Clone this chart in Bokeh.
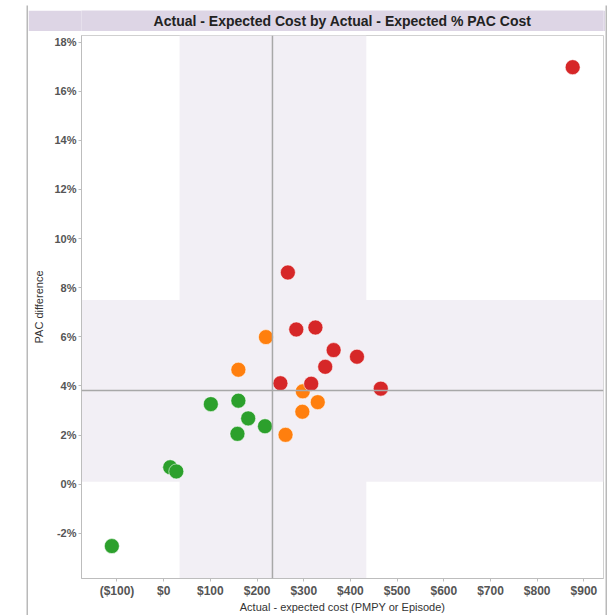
from bokeh.plotting import figure
from bokeh.layouts import column, row
from bokeh.models import (Range1d, BoxAnnotation, Span, Label, ColumnDataSource,
                          FixedTicker, PrintfTickFormatter, CustomJSTickFormatter)
from bokeh.embed import file_html
from bokeh.resources import INLINE

# ---- data ----
title_text = "Actual - Expected Cost by Actual - Expected % PAC Cost"
x_label = "Actual - expected cost (PMPY or Episode)"
y_label = "PAC difference"

red_x = [876, 266, 284, 325, 364, 414, 346, 250, 316, 465]
red_y = [16.98, 8.62, 6.30, 6.38, 5.46, 5.19, 4.78, 4.11, 4.09, 3.89]

orange_x = [219, 160, 298, 330, 297, 261]
orange_y = [5.99, 4.66, 3.78, 3.34, 2.95, 2.01]

green_x = [101, 160, 181, 217, 158, 14, 27, -111]
green_y = [3.26, 3.40, 2.68, 2.36, 2.05, 0.69, 0.52, -2.52]

ref_x = 233          # vertical reference line ($)
ref_y = 3.82         # horizontal reference line (%)
band_x = [34, 434]   # shaded band in x ($)
band_y = [0.1, 7.5]  # shaded band in y (%)

x_ticks = [-100, 0, 100, 200, 300, 400, 500, 600, 700, 800, 900]
y_ticks = [-2, 0, 2, 4, 6, 8, 10, 12, 14, 16, 18]
x_limits = [-176, 942]
y_limits = [-3.84, 18.27]

colors = {"red": "#d62728", "orange": "#ff7f0e", "green": "#2ca02c"}
band_color = "#f2eff5"
frame_gray = "#b9b9b9"
font = "Liberation Sans"

W = 577


def blank(width, height, color):
    f = figure(width=width, height=height, output_backend="svg", toolbar_location=None,
               x_range=Range1d(0, 1), y_range=Range1d(0, 1), min_border=0)
    f.axis.visible = False
    f.grid.visible = False
    f.outline_line_color = None
    f.background_fill_color = color
    f.border_fill_color = color
    return f


# ---- title bar ----
t = blank(W, 21, "#ddd5e5")
t.add_layout(Label(x=0.5, y=0.5, text=title_text, text_align="center",
                   text_baseline="middle", text_font=font, text_font_size="14px",
                   text_font_style="bold", text_color="#222222"))

# ---- main plot ----
p = figure(width=W, height=584, output_backend="svg", toolbar_location=None,
           x_range=Range1d(*x_limits), y_range=Range1d(*y_limits),
           min_border_left=53, min_border_right=2, min_border_top=4, min_border_bottom=37)
p.grid.visible = False
p.background_fill_color = "white"
p.border_fill_color = "white"
p.outline_line_color = "#d0d0d0"

p.add_layout(BoxAnnotation(left=band_x[0], right=band_x[1], fill_color=band_color,
                           fill_alpha=1, line_color=None, level="underlay"))
p.add_layout(BoxAnnotation(bottom=band_y[0], top=band_y[1], fill_color=band_color,
                           fill_alpha=1, line_color=None, level="underlay"))
p.add_layout(Span(location=ref_x, dimension="height", line_color="#a8a8a8", line_width=1.5))
p.add_layout(Span(location=ref_y, dimension="width", line_color="#a8a8a8", line_width=1.5))

for name, xs, ys in [("green", green_x, green_y), ("orange", orange_x, orange_y),
                     ("red", red_x, red_y)]:
    src = ColumnDataSource(dict(x=xs, y=ys))
    p.scatter("x", "y", source=src, size=15, fill_color=colors[name],
              line_color="white", line_width=0.8, line_alpha=0.7)

p.xaxis.ticker = FixedTicker(ticks=x_ticks)
p.yaxis.ticker = FixedTicker(ticks=y_ticks)
p.xaxis.formatter = CustomJSTickFormatter(
    code='return tick < 0 ? "($" + Math.abs(tick) + ")" : "$" + tick;')
p.yaxis.formatter = PrintfTickFormatter(format="%d%%")
for ax in (p.xaxis, p.yaxis):
    ax.axis_line_color = "#bdbdbd"
    ax.major_tick_line_color = "#bdbdbd"
    ax.major_tick_out = 3
    ax.major_tick_in = 0
    ax.minor_tick_line_color = None
    ax.major_label_text_font = font
    ax.major_label_text_font_style = "bold"
    ax.major_label_text_color = "#555555"
    ax.axis_label_text_font = font
    ax.axis_label_text_font_size = "11px"
    ax.axis_label_text_font_style = "normal"
    ax.axis_label_text_color = "#333333"
p.xaxis.major_label_text_font_size = "12px"
p.yaxis.major_label_text_font_size = "11px"
p.xaxis.axis_label = x_label
p.yaxis.axis_label = y_label
p.xaxis.major_label_standoff = 2
p.xaxis.axis_label_standoff = 0
p.yaxis.major_label_standoff = 2
p.yaxis.axis_label_standoff = 6


def side_line():
    return column(blank(2, 5, "white"), blank(2, 610, frame_gray), spacing=0)


layout = row(blank(26, 615, "white"),
             side_line(),
             column(blank(W, 10, "white"), t, p, spacing=0),
             side_line(),
             spacing=0)

open("out.html", "w").write(file_html(layout, INLINE))
